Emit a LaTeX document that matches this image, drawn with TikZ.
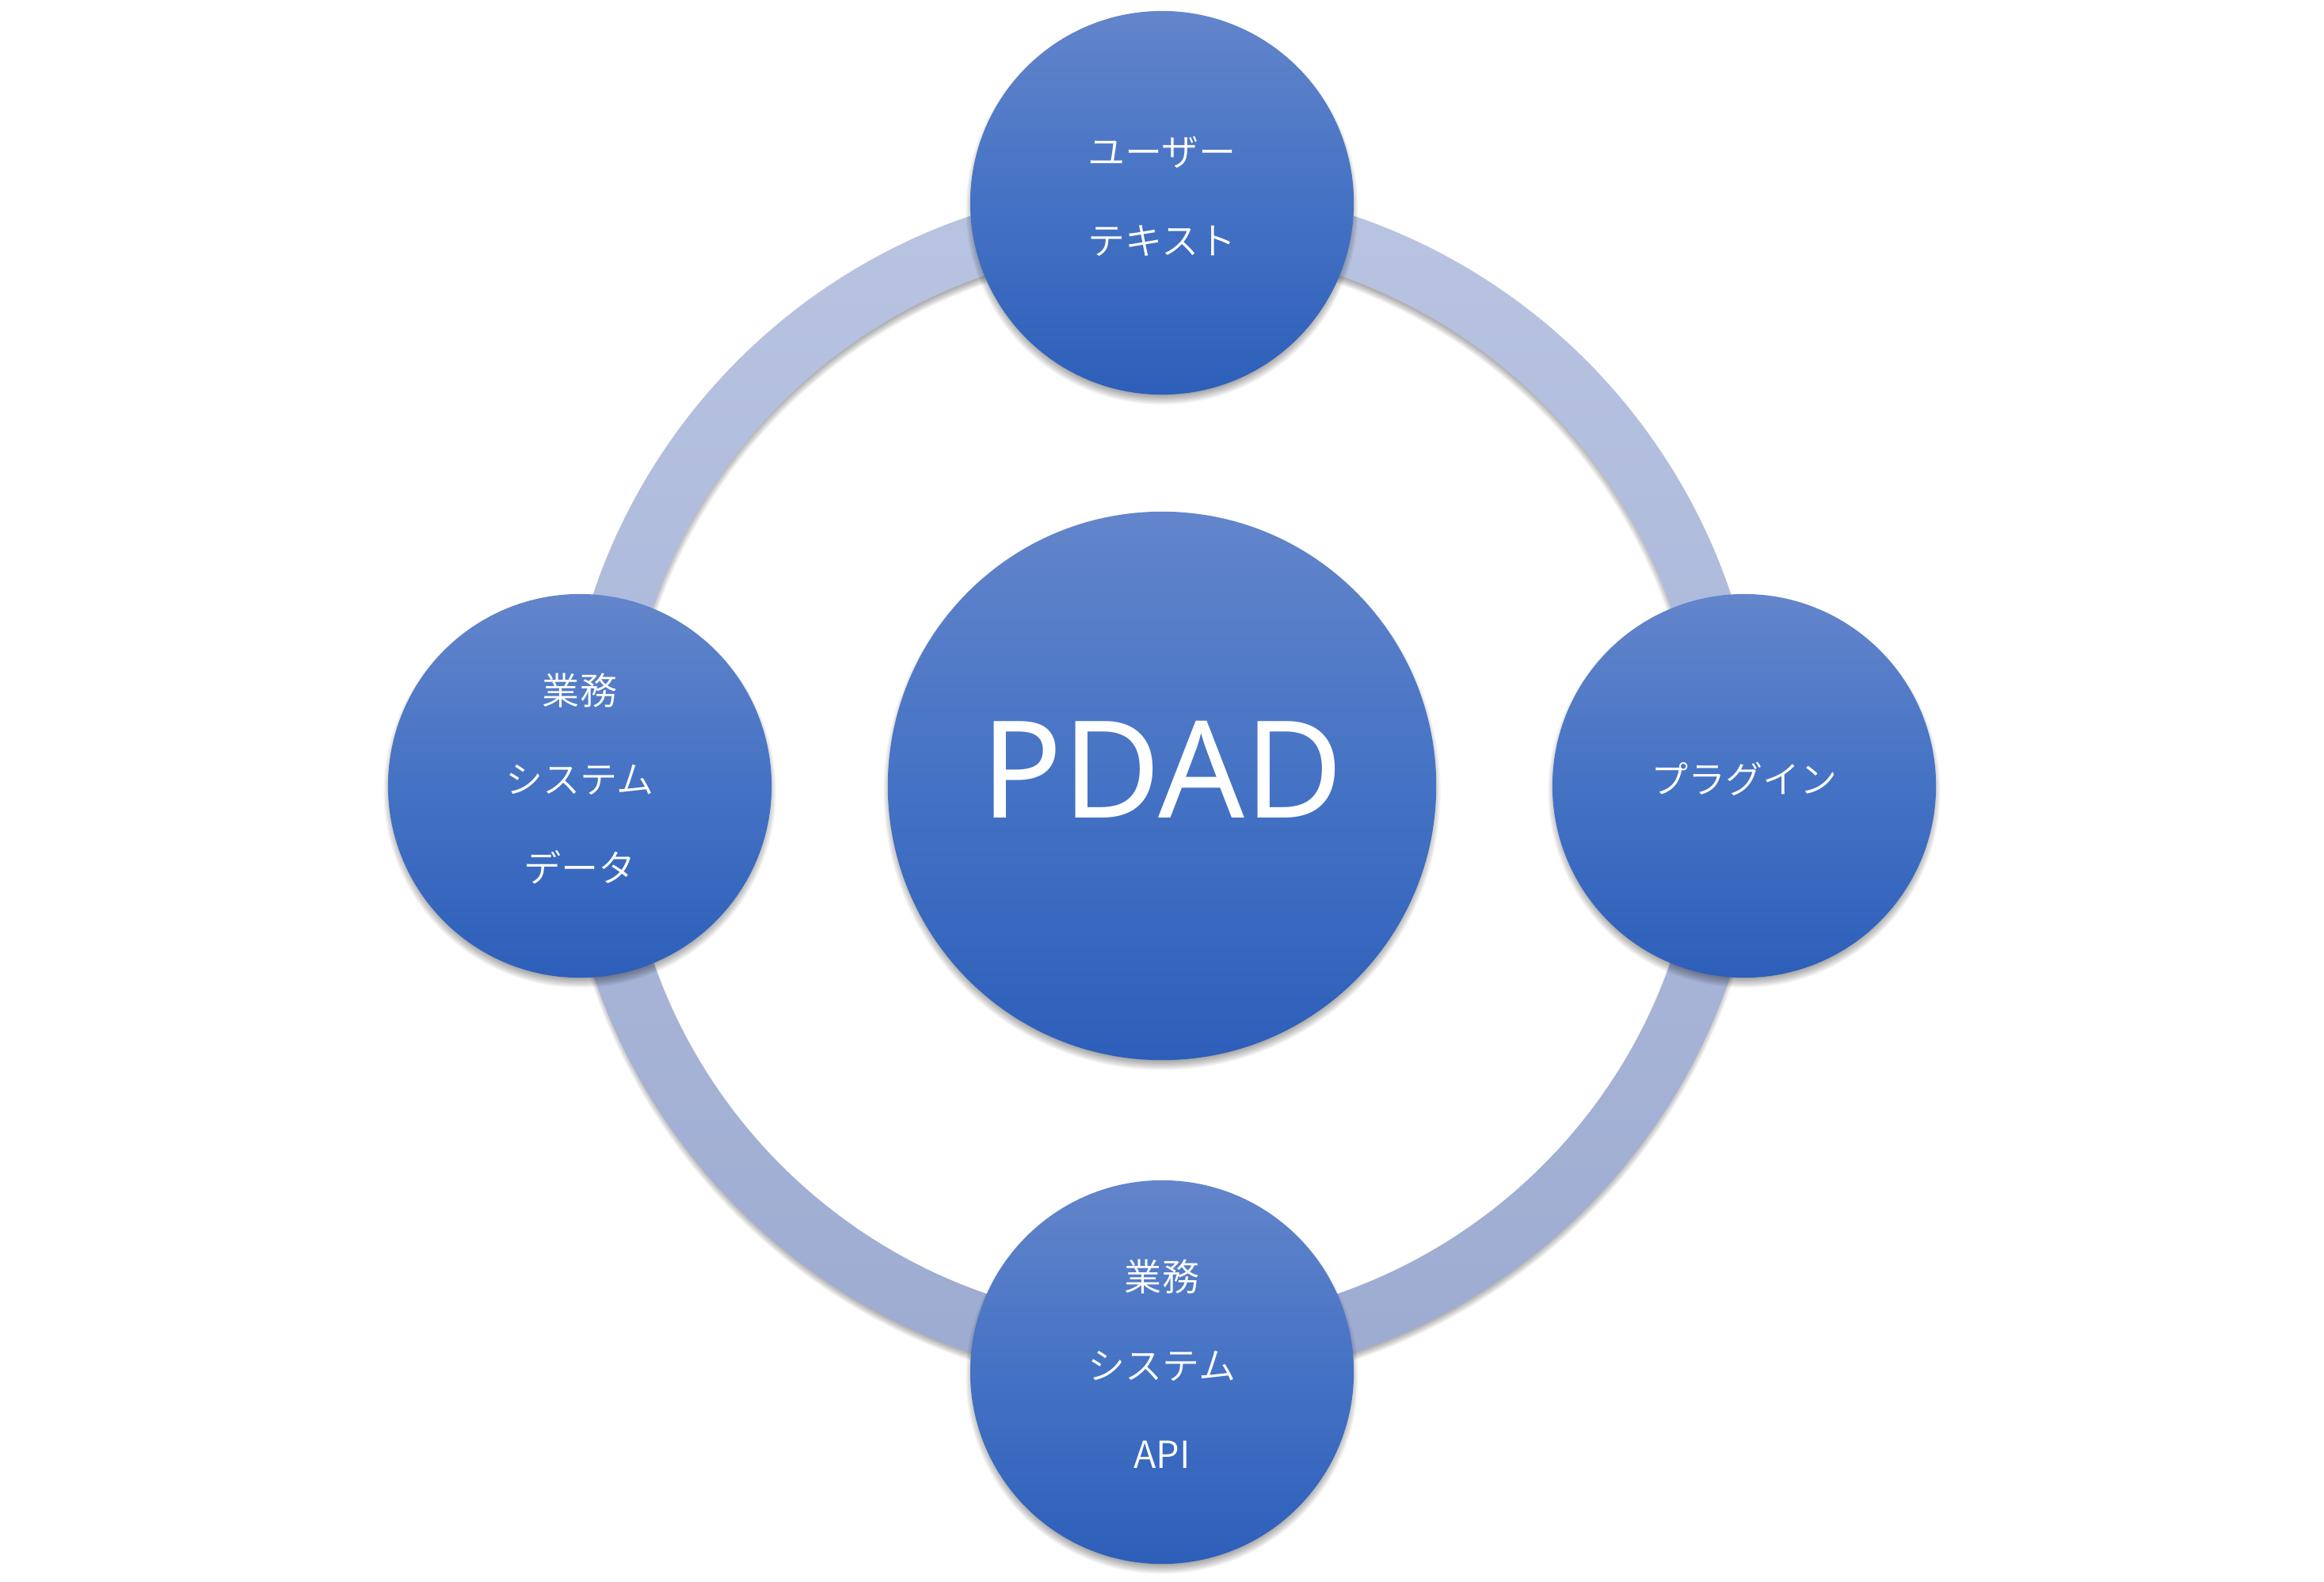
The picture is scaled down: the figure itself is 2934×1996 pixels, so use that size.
\documentclass[tikz,border=0pt]{standalone}
\usepackage{fontspec}
\IfFontExistsTF{Noto Sans CJK JP DemiLight}
  {\newfontfamily\jp{Noto Sans CJK JP DemiLight}}
  {\newfontfamily\jp{Noto Sans CJK JP}}
\newfontfamily\lat{Noto Sans}
\usetikzlibrary{calc}
\definecolor{ctop}{HTML}{6385CB}
\definecolor{cmid}{HTML}{4472C4}
\definecolor{cbot}{HTML}{2D5FBA}
\definecolor{rtop}{HTML}{B9C4E2}
\definecolor{rbot}{HTML}{9DABD1}
\newcommand{\tbox}[1]{\rule{0pt}{12pt}#1\rule[-6.6pt]{0pt}{6.6pt}}
\begin{document}
\begin{tikzpicture}[x=0.01cm,y=-0.01cm,
  bubble/.style={circle, inner sep=0pt, shade, top color=ctop, bottom color=cbot, middle color=cmid, text=white, align=center},
  sat/.style={bubble, minimum size=4.84cm, font=\jp\fontsize{13.4}{31.9}\selectfont},
  hub/.style={bubble, minimum size=6.92cm, font=\lat\fontsize{48.5}{50}\selectfont, text height=34.6pt, text depth=11.6pt},
  shadowlayer/.style={black, opacity=0.04}]
\fill[white] (0,0) rectangle (2934,1996);
\useasboundingbox (0,0) rectangle (2934,1996);

\coordinate (pC) at (1467,992);
\coordinate (pT) at (1467,256);
\coordinate (pL) at (732,992);
\coordinate (pR) at (2202,992);
\coordinate (pB) at (1467,1732);
\coordinate (pRing) at (1467,990);

% ring shadow
\foreach \k in {0,...,9}
  \draw[shadowlayer, opacity=0.035, line width={(66+2*\k)*0.28453pt}] ($(pRing)+(0,7)$) circle[radius=718];
% ring
\shade[even odd rule, top color=rtop, bottom color=rbot] (pRing) circle[radius=757] (pRing) circle[radius=680];

% circle shadows
\foreach \p/\r in {pC/346, pT/242, pL/242, pR/242, pB/242}
  \foreach \k in {0,...,9}
    \fill[shadowlayer] ($(\p)+(0,7)$) circle[radius={\r-6+1.3*\k}];

\node[hub] (hub) at (pC) {PDAD};
\node[sat] (top) at (pT) {\tbox{ユーザー\\テキスト}};
\node[sat] (left) at (pL) {\tbox{業務\\システム\\データ}};
\node[sat] (right) at (pR) {\tbox{プラグイン}};
\node[sat] (bottom) at (pB) {\tbox{業務\\システム\\API}};
\end{tikzpicture}
\end{document}
